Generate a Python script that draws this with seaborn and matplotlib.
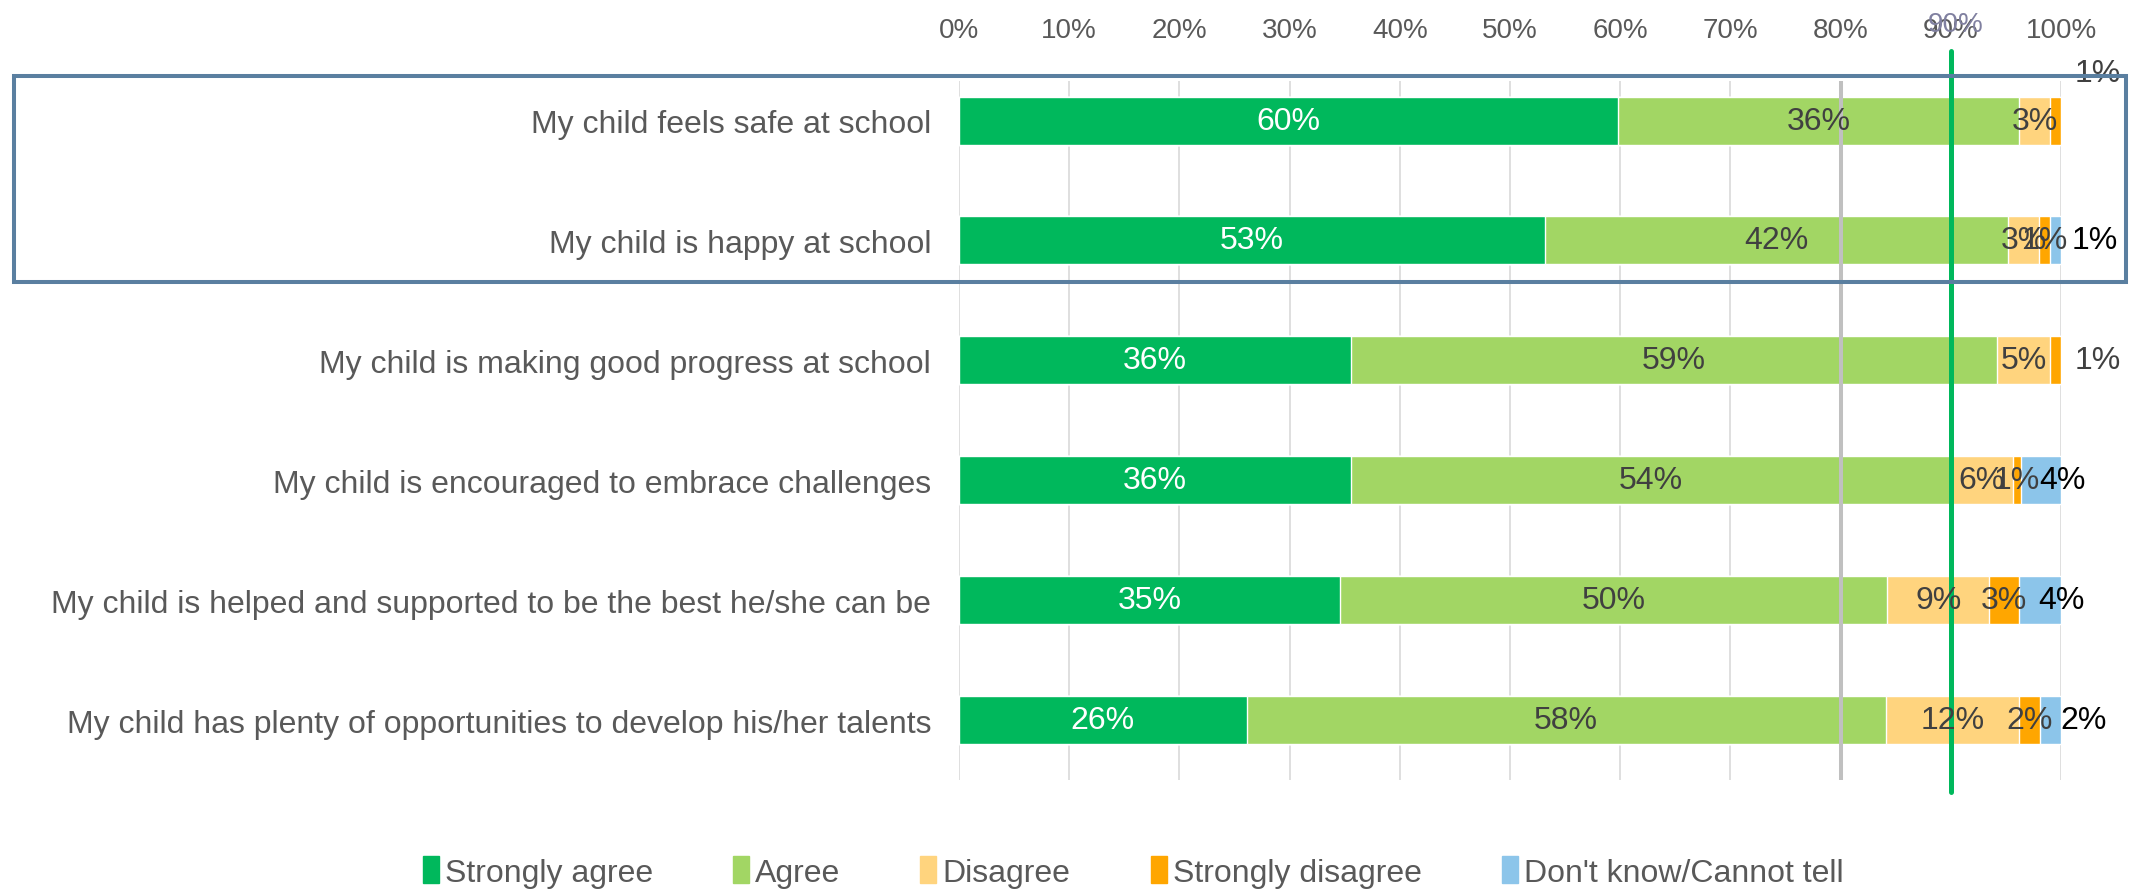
import matplotlib
matplotlib.use("Agg")
import matplotlib.pyplot as plt
import matplotlib.patches as mpatches
import matplotlib.transforms as mtransforms
import seaborn as sns
import numpy as np
import pandas as pd

# Parent survey - share of responses per statement (%)
questions = [
    "My child feels safe at school",
    "My child is happy at school",
    "My child is making good progress at school",
    "My child is encouraged to embrace challenges",
    "My child is helped and supported to be the best he/she can be",
    "My child has plenty of opportunities to develop his/her talents",
]
responses = ["Strongly agree", "Agree", "Disagree", "Strongly disagree", "Don't know/Cannot tell"]
strongly_agree = [59.8, 53.2, 35.6, 35.6, 34.6, 26.1]
agree = [36.4, 42.0, 58.6, 54.4, 49.6, 58.0]
disagree = [2.8, 2.8, 4.8, 5.6, 9.3, 12.1]
strongly_disagree = [1.0, 1.0, 1.0, 0.8, 2.7, 1.9]
dont_know = [0.0, 1.0, 0.0, 3.6, 3.8, 1.9]
ticks = [0, 10, 20, 30, 40, 50, 60, 70, 80, 90, 100]
benchmark = 80
target = 90

colors = ["#00b85c", "#a2d664", "#ffd47e", "#ffa600", "#8cc5ea"]
label_colors = ["white", "#404040", "#404040", "#404040", "black"]
TEXT = "#595959"
FS = 23

sns.set_style("white")
plt.rcParams["font.family"] = ["Liberation Sans", "DejaVu Sans"]

values = np.array([strongly_agree, agree, disagree, strongly_disagree, dont_know])
cum = values.cumsum(axis=0)

fig = plt.figure(figsize=(21.3, 8.95), dpi=100)
ax = fig.add_axes([959 / 2130, 114 / 895, 1102 / 2130, 699 / 895])

# stacked bars: draw cumulative totals from the last category backwards
for i in range(len(responses) - 1, -1, -1):
    df = pd.DataFrame({"question": questions, "value": cum[i]})
    sns.barplot(data=df, x="value", y="question", color=colors[i], orient="h",
                width=0.4, saturation=1, ax=ax, zorder=2)

ax.set_xlim(0, 100)
ax.set_ylim(5.5, -0.33)
ax.set_xticks(ticks)
ax.set_xticklabels([f"{t}%" for t in ticks])
ax.xaxis.tick_top()
ax.tick_params(axis="x", length=0, pad=27, labelsize=20, labelcolor=TEXT)
ax.tick_params(axis="y", length=0, pad=20, labelsize=FS, labelcolor=TEXT)
ax.set_xlabel("")
ax.set_ylabel("")
for s in ax.spines.values():
    s.set_visible(False)
ax.set_axisbelow(True)
ax.grid(axis="x", color="#d9d9d9", linewidth=1.2, zorder=0)

ax.axvline(benchmark, ymin=0, ymax=1, color="#c0c0c0", linewidth=2.9, zorder=3)
ax.plot([target, target], [5.6, -0.58], color="#00b85c", linewidth=3.6, zorder=4,
        clip_on=False)
trans = mtransforms.blended_transform_factory(ax.transData, fig.transFigure)
ax.text(target + 0.4, 1 - 25 / 895, f"{target}%", ha="center", va="center",
        fontsize=20, color="#8080a0", transform=trans, clip_on=False)

# value labels
for r in range(len(questions)):
    for i in range(len(responses)):
        v = values[i, r]
        if v <= 0:
            continue
        start = cum[i, r] - v
        x = start + v / 2
        y = r
        ha = "center"
        if i == 3 and dont_know[r] == 0:
            x = 101.2
            ha = "left"
            if r == 0:
                y = r - 0.4
        elif i == 4:
            x = max(start + v / 2 - 0.2, 99.9) if v < 3 else start + v / 2 - 0.2
            if v < 1.5:
                x = 101.0
            ha = "left"
        ax.text(x, y, f"{v:.0f}%", ha=ha, va="center", fontsize=FS,
                color=label_colors[i], zorder=5, clip_on=False)

# highlight box around the first two statements
fig.add_artist(mpatches.Rectangle((14 / 2130, 1 - 283 / 895), 2112 / 2130, 206 / 895,
                                  transform=fig.transFigure, fill=False,
                                  edgecolor="#5a7fa0", linewidth=2.9))

handles = [mpatches.Patch(color=c, label=l) for c, l in zip(colors, responses)]
fig.legend(handles=handles, loc="lower center", bbox_to_anchor=(0.532, -0.025), ncol=5,
           frameon=False, fontsize=FS, labelcolor=TEXT, handlelength=0.5,
           handleheight=0.9, handletextpad=0.2, columnspacing=2.5)

fig.savefig("out.png", dpi=100)
